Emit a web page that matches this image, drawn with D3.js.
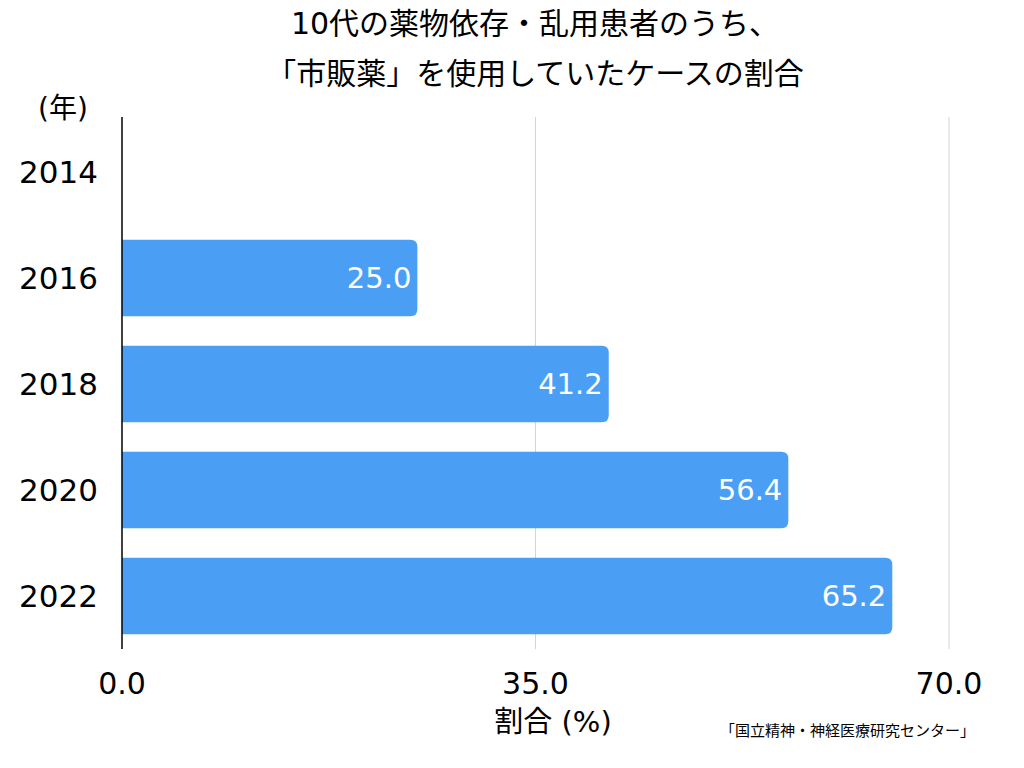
<!DOCTYPE html>
<html>
<head>
<meta charset="utf-8">
<script src="https://cdn.jsdelivr.net/npm/d3@7"></script>
<style>
  body { margin: 0; background: #fff; }
  text { font-family: "DejaVu Sans", "Noto Sans CJK JP", sans-serif; }
</style>
</head>
<body>
<div class="chart"></div>
<script>
// Data
var years = ["2014", "2016", "2018", "2020", "2022"];
var values = [null, 25.0, 41.2, 56.4, 65.2];
var xTicks = [0, 35, 70];

var titleLines = ["10代の薬物依存・乱用患者のうち、", "「市販薬」を使用していたケースの割合"];
var sourceText = "「国立精神・神経医療研究センター」";

var svgWidth = 1024;
var svgHeight = 768;

var svg = d3.select(".chart")
  .append("svg")
  .attr("width", svgWidth)
  .attr("height", svgHeight);

// scales
var xScale = d3.scaleLinear()
  .domain([0, 70])
  .range([122, 949]);

var yScale = d3.scaleBand()
  .domain(years)
  .range([119, 649])
  .paddingInner(0.28)
  .paddingOuter(0.14);

// gridlines
svg.append("g")
  .selectAll("line")
  .data(xTicks.slice(1))
  .enter()
  .append("line")
  .attr("x1", d => xScale(d))
  .attr("x2", d => xScale(d))
  .attr("y1", 117)
  .attr("y2", 649)
  .attr("stroke", "#d4d4d4")
  .attr("stroke-width", 1);

// bars, rounded on the right
var rows = years.map((y, i) => ({ year: y, value: values[i] })).filter(d => d.value != null);
var r = 7;

svg.append("g")
  .selectAll("path")
  .data(rows)
  .enter()
  .append("path")
  .attr("fill", "#4a9ff5")
  .attr("d", function(d) {
    var x0 = xScale(0), x1 = xScale(d.value);
    var y0 = yScale(d.year), h = yScale.bandwidth();
    return `M${x0},${y0} H${x1 - r} Q${x1},${y0} ${x1},${y0 + r} V${y0 + h - r} Q${x1},${y0 + h} ${x1 - r},${y0 + h} H${x0} Z`;
  });

// value labels
svg.append("g")
  .selectAll("text")
  .data(rows)
  .enter()
  .append("text")
  .attr("x", d => xScale(d.value) - 6)
  .attr("y", d => yScale(d.year) + yScale.bandwidth() / 2)
  .attr("dy", "0.36em")
  .attr("text-anchor", "end")
  .attr("fill", "#fff")
  .attr("font-size", 29)
  .text(d => d.value.toFixed(1));

// y axis line
svg.append("line")
  .attr("x1", xScale(0))
  .attr("x2", xScale(0))
  .attr("y1", 117)
  .attr("y2", 649)
  .attr("stroke", "#000")
  .attr("stroke-width", 1.5);

// year labels
svg.append("g")
  .selectAll("text")
  .data(years)
  .enter()
  .append("text")
  .attr("x", 98)
  .attr("y", d => yScale(d) + yScale.bandwidth() / 2)
  .attr("dy", "0.36em")
  .attr("text-anchor", "end")
  .attr("font-size", 31)
  .attr("fill", "#000")
  .text(d => d);

// x tick labels
svg.append("g")
  .selectAll("text")
  .data(xTicks)
  .enter()
  .append("text")
  .attr("x", d => xScale(d))
  .attr("y", 683)
  .attr("dy", "0.36em")
  .attr("text-anchor", "middle")
  .attr("font-size", 30)
  .attr("fill", "#000")
  .text(d => d.toFixed(1));

// axis titles
svg.append("text")
  .attr("x", 553)
  .attr("y", 722)
  .attr("dy", "0.36em")
  .attr("text-anchor", "middle")
  .attr("font-size", 29)
  .text("割合 (%)");

svg.append("text")
  .attr("x", 63)
  .attr("y", 108)
  .attr("dy", "0.36em")
  .attr("text-anchor", "middle")
  .attr("font-size", 28)
  .text("(年)");

// title
svg.append("g")
  .selectAll("text")
  .data(titleLines)
  .enter()
  .append("text")
  .attr("x", 535)
  .attr("y", (d, i) => 23 + i * 50)
  .attr("dy", "0.36em")
  .attr("text-anchor", "middle")
  .attr("font-size", 30)
  .text(d => d);

// source
svg.append("text")
  .attr("x", 975)
  .attr("y", 731)
  .attr("dy", "0.36em")
  .attr("text-anchor", "end")
  .attr("font-size", 15)
  .text(sourceText);
</script>
</body>
</html>
